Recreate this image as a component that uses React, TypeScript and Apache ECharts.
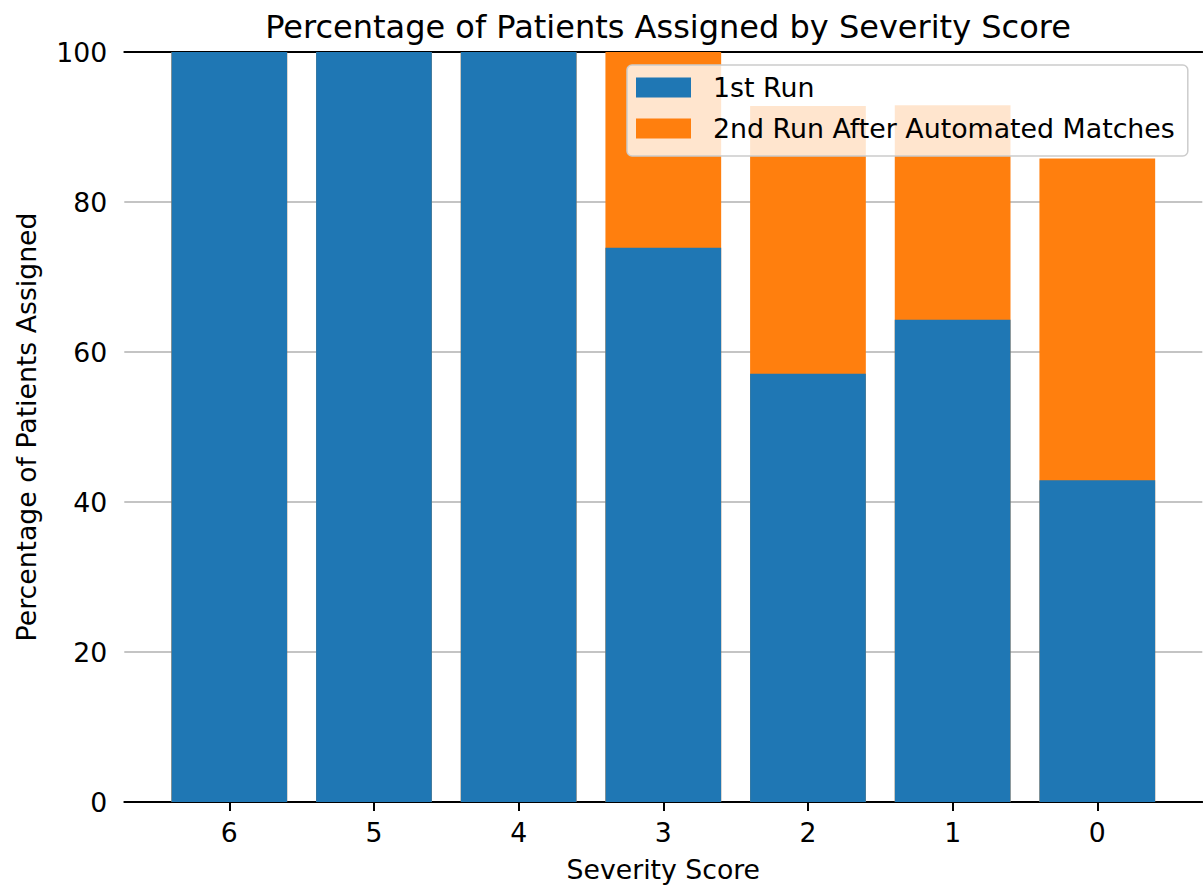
import React, { useEffect, useRef } from "react";
import * as echarts from "echarts";

const categories = ["6", "5", "4", "3", "2", "1", "0"];
const positions = [0, 1, 2, 3, 4, 5, 6];
const firstRun = [100, 100, 100, 73.9, 57.1, 64.3, 42.9];
const secondRun = [0, 0, 0, 26.1, 35.7, 28.6, 42.9];
const yTicks = [0, 20, 40, 60, 80, 100];

const FONT = "DejaVu Sans";

export default function App() {
  const ref = useRef<HTMLDivElement>(null);
  useEffect(() => {
    if (!ref.current) return;
    const chart = echarts.init(ref.current, null, { renderer: "svg" });
    const xmin = -0.7258;
    const xmax = 6.7258;
    const totals = firstRun.map((v, i) => v + secondRun[i]);
    chart.setOption({
      animation: false,
      backgroundColor: "#ffffff",
      textStyle: { fontFamily: FONT },
      title: {
        text: "Percentage of Patients Assigned by Severity Score",
        left: 663,
        top: 6,
        textAlign: "center",
        textStyle: { fontFamily: FONT, fontSize: 32, fontWeight: "normal", color: "#000" },
      },
      legend: {
        orient: "vertical",
        left: 627,
        top: 65,
        padding: [9, 13, 14, 9],
        itemWidth: 55,
        itemHeight: 20,
        itemGap: 14,
        backgroundColor: "rgba(255,255,255,0.8)",
        borderColor: "#cccccc",
        borderWidth: 1.5,
        borderRadius: 5,
        icon: "rect",
        textStyle: { fontFamily: FONT, fontSize: 26.8, color: "#000", padding: [0, 0, 0, 17] },
        data: ["1st Run", "2nd Run After Automated Matches"],
      },
      grid: { left: 124.3, right: 0.7, top: 52, bottom: 88, containLabel: false },
      xAxis: [
        {
          type: "value",
          min: xmin,
          max: xmax,
          name: "Severity Score",
          nameLocation: "middle",
          nameGap: 54,
          nameTextStyle: { fontFamily: FONT, fontSize: 26.7, color: "#000" },
          axisLine: { show: true, onZero: false, lineStyle: { color: "#000", width: 2 } },
          axisTick: { show: true, length: 9, lineStyle: { color: "#000", width: 2 }, customValues: positions },
          axisLabel: {
            show: true,
            margin: 17,
            fontFamily: FONT,
            fontSize: 26.7,
            color: "#000",
            customValues: positions,
            formatter: (v: number) => categories[Math.round(v)] ?? "",
          },
          splitLine: { show: false },
        },
        {
          type: "value",
          position: "top",
          min: xmin,
          max: xmax,
          axisLine: { show: true, onZero: false, lineStyle: { color: "#000", width: 2 } },
          axisTick: { show: false },
          axisLabel: { show: false },
          splitLine: { show: false },
        },
      ],
      yAxis: {
        type: "value",
        min: 0,
        max: 100,
        interval: 20,
        name: "Percentage of Patients Assigned",
        nameLocation: "middle",
        nameGap: 84,
        nameTextStyle: { fontFamily: FONT, fontSize: 26.7, color: "#000" },
        axisLine: { show: true, lineStyle: { color: "#000", width: 2 } },
        axisTick: { show: true, length: 9, lineStyle: { color: "#000", width: 2 } },
        axisLabel: {
          margin: 17,
          fontFamily: FONT,
          fontSize: 26.7,
          color: "#000",
          customValues: yTicks,
        },
        splitLine: { show: true, lineStyle: { color: "#b0b0b0", width: 1.5 } },
      },
      series: [
        {
          name: "2nd Run After Automated Matches",
          type: "bar",
          xAxisIndex: 0,
          barWidth: "80%",
          barGap: "-100%",
          itemStyle: { color: "#ff7f0e" },
          data: positions.map((p, i) => [p, totals[i]]),
        },
        {
          name: "1st Run",
          type: "bar",
          xAxisIndex: 0,
          barWidth: "80%",
          barGap: "-100%",
          itemStyle: { color: "#1f77b4" },
          data: positions.map((p, i) => [p, firstRun[i]]),
        },
      ],
    });
    return () => chart.dispose();
  }, []);
  return (
    <div
      ref={ref}
      style={{ position: "fixed", left: 0, top: 0, width: 1203, height: 890 }}
    />
  );
}
